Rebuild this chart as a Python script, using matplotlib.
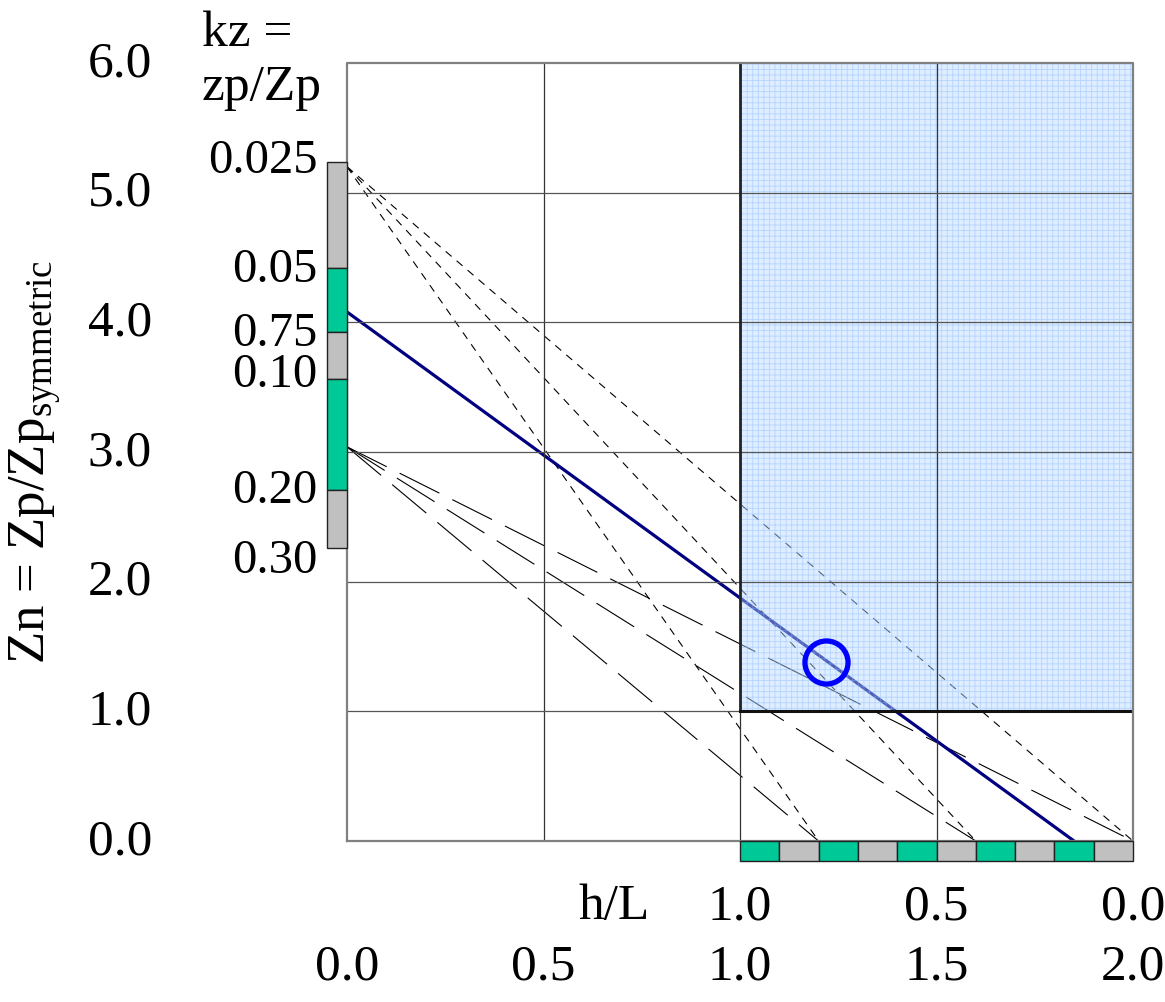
import matplotlib.pyplot as plt
from matplotlib.patches import Rectangle

plt.rcParams['font.family'] = ['Liberation Serif', 'DejaVu Serif']
plt.rcParams['mathtext.fontset'] = 'custom'
plt.rcParams['mathtext.rm'] = 'Liberation Serif'
plt.rcParams['hatch.linewidth'] = 0.6

# main axes: Zn (vertical) and h/L (horizontal)
zn_ticks = [0.0, 1.0, 2.0, 3.0, 4.0, 5.0, 6.0]
hl_ticks = [0.0, 0.5, 1.0, 1.5, 2.0]
hl_top_pos = [1.0, 1.5, 2.0]
hl_top_labels = ['1.0', '0.5', '0.0']

# kz = zp/Zp scale on the left edge
kz_labels = ['0.025', '0.05', '0.75', '0.10', '0.20', '0.30']
kz_label_pos = [5.25, 4.41, 3.92, 3.60, 2.71, 2.17]
kz_edges = [5.234, 4.417, 3.928, 3.563, 2.707, 2.257]
kz_colors = ['gray', 'green', 'gray', 'green', 'gray']

# h/L scale under the shaded area
hl_edges = [1.0, 1.1, 1.2, 1.3, 1.4, 1.5, 1.6, 1.7, 1.8, 1.9, 2.0]
hl_colors = ['green', 'gray'] * 5

# construction lines
fan_top_start = 5.2
fan_low_start = 3.04
fan_ends = [1.2, 1.6, 2.0]
result_zn0 = 4.08
result_hl_end = 1.85
point_hl, point_zn = 1.22, 1.38

fill = {'green': '#00c896', 'gray': '#c0c0c0'}

fig = plt.figure(figsize=(11.65, 10.03), dpi=100)
ax = fig.add_axes([347 / 1165, 161 / 1003, 786 / 1165, 778 / 1003])
ax.set_xlim(0, 2)
ax.set_ylim(0, 6)
ax.axis('off')

# shaded region (drawn over the dashed lines, so they look faded)
ax.add_patch(Rectangle((1, 1), 1, 5, facecolor='#b6d9ff', edgecolor='#85b6ff',
                       hatch='+++', linewidth=0, alpha=0.45, zorder=3))

# grid
for x in [0.5, 1.5]:
    ax.plot([x, x], [0, 6], color='#333333', lw=0.9, zorder=4)
for y in [2, 3, 4, 5]:
    ax.plot([0, 2], [y, y], color='#555555', lw=0.9, zorder=4)
ax.plot([1, 1], [0, 1], color='#333333', lw=0.9, zorder=4)
ax.plot([0, 1], [1, 1], color='#555555', lw=0.9, zorder=4)
ax.plot([1, 1], [1, 6], color='#222222', lw=2.0, zorder=4)
ax.plot([1, 2], [1, 1], color='#111111', lw=2.2, zorder=4)
# frame
ax.plot([0, 0, 2, 2, 0], [0, 6, 6, 0, 0], color='#808080', lw=1.6,
        zorder=4, clip_on=False)

# construction lines
for xe in fan_ends:
    ax.plot([0, xe], [fan_top_start, 0], color='black', lw=0.8,
            dashes=(7, 6), zorder=2)
    ax.plot([0, xe], [fan_low_start, 0], color='black', lw=0.8,
            dashes=(40, 13), zorder=2)
ax.plot([0, result_hl_end], [result_zn0, 0], color='#000080', lw=2.3, zorder=2.5)
ax.plot([point_hl], [point_zn], 'o', ms=31, mfc='none', mec='#0000ff',
        mew=3.8, zorder=6)

# kz scale bar
for i, c in enumerate(kz_colors):
    ax.add_patch(Rectangle((-0.052, kz_edges[i + 1]), 0.052,
                           kz_edges[i] - kz_edges[i + 1], facecolor=fill[c],
                           edgecolor='#222222', lw=1.0, clip_on=False, zorder=5))
for lab, y in zip(kz_labels, kz_label_pos):
    ax.text(-0.076, y, lab, ha='right', va='center', fontsize=35)
ax.text(-0.369, 6.14, 'kz =', ha='left', va='baseline', fontsize=37)
ax.text(-0.369, 5.72, 'zp/Zp', ha='left', va='baseline', fontsize=37)

# h/L scale bar
for i, c in enumerate(hl_colors):
    ax.add_patch(Rectangle((hl_edges[i], -0.155), hl_edges[i + 1] - hl_edges[i],
                           0.155, facecolor=fill[c], edgecolor='#222222',
                           lw=1.0, clip_on=False, zorder=5))

# tick labels
for y in zn_ticks:
    ax.text(-0.496, y, f'{y:.1f}', ha='right', va='center', fontsize=37)
for x in hl_ticks:
    ax.text(x, -0.965, f'{x:.1f}', ha='center', va='center', fontsize=37)
for x, lab in zip(hl_top_pos, hl_top_labels):
    ax.text(x, -0.50, lab, ha='center', va='center', fontsize=37)
ax.text(0.68, -0.50, 'h/L', ha='center', va='center', fontsize=37)

fig.text(36 / 1165, 0.539, r'Zn = Zp/Zp$_{\mathrm{symmetric}}$', rotation=90,
         ha='center', va='center', fontsize=38)

fig.savefig('out.png', dpi=100)
